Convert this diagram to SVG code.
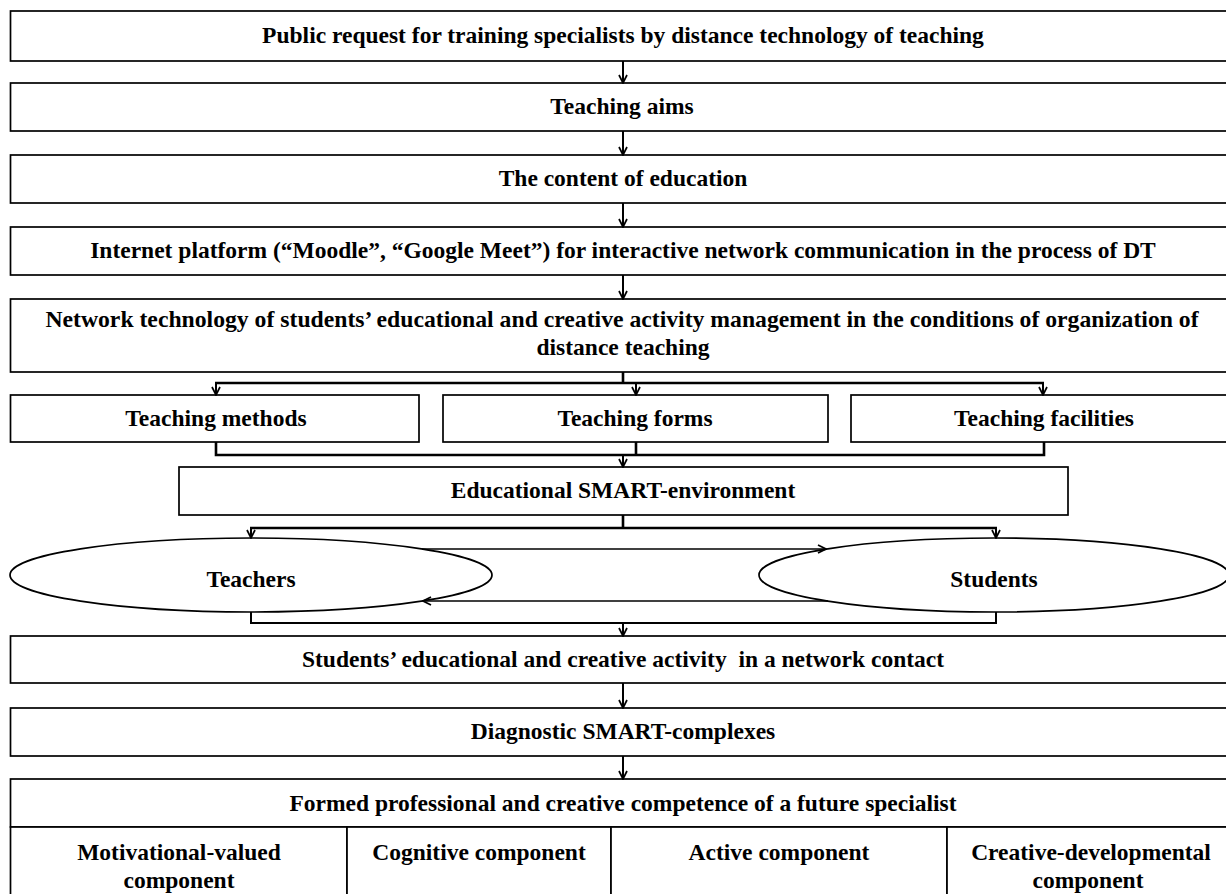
<svg xmlns="http://www.w3.org/2000/svg" width="1226" height="894" viewBox="0 0 1226 894">
<style>
.box{fill:#fff;stroke:#000;stroke-width:1.7}
.t{font-family:"Liberation Serif",serif;font-weight:bold;font-size:23.5px;text-anchor:middle;fill:#000}
.pre{white-space:pre}
.c{fill:none;stroke:#000;stroke-width:2}
.ct{fill:none;stroke:#000;stroke-width:2.6}
.cn{fill:none;stroke:#000;stroke-width:1.5}
</style>
<defs>
<marker id="ah" markerWidth="10" markerHeight="10" refX="9" refY="5" orient="auto" markerUnits="userSpaceOnUse">
<path d="M1,1 L9,5 L1,9" fill="none" stroke="#000" stroke-width="1.7"/>
</marker>
</defs>
<rect width="1226" height="894" fill="#fff"/>
<g id="n1"><rect class="box" x="10.5" y="11" width="1230" height="50"/><text class="t" x="623" y="43">Public request for training specialists by distance technology of teaching</text></g>
<g id="n2"><rect class="box" x="10.5" y="83" width="1230" height="48"/><text class="t" x="622" y="114">Teaching aims</text></g>
<g id="n3"><rect class="box" x="10.5" y="155" width="1230" height="48"/><text class="t" x="623" y="186">The content of education</text></g>
<g id="n4"><rect class="box" x="10.5" y="227" width="1230" height="48"/><text class="t" x="623" y="258">Internet platform (“Moodle”, “Google Meet”) for interactive network communication in the process of DT</text></g>
<g id="n5"><rect class="box" x="10.5" y="299" width="1230" height="73"/><text class="t" x="622" y="327" style="font-size:23.7px">Network technology of students’ educational and creative activity management in the conditions of organization of</text><text class="t" x="623" y="355">distance teaching</text></g>
<g id="n6"><rect class="box" x="10.5" y="395" width="408.5" height="47"/><text class="t" x="216" y="426">Teaching methods</text></g>
<g id="n7"><rect class="box" x="443" y="395" width="385" height="47"/><text class="t" x="635" y="426">Teaching forms</text></g>
<g id="n8"><rect class="box" x="851" y="395" width="390" height="47"/><text class="t" x="1044" y="426">Teaching facilities</text></g>
<g id="n9"><rect class="box" x="179" y="467" width="889" height="48"/><text class="t" x="623" y="498">Educational SMART-environment</text></g>
<g id="n10"><ellipse class="box" cx="251" cy="575" rx="241" ry="37"/><text class="t" x="251" y="587">Teachers</text></g>
<g id="n11"><ellipse class="box" cx="994" cy="575" rx="235" ry="37"/><text class="t" x="994" y="587">Students</text></g>
<g id="n12"><rect class="box" x="10.5" y="636" width="1230" height="47"/><text class="t pre" x="623" y="667">Students’ educational and creative activity  in a network contact</text></g>
<g id="n13"><rect class="box" x="10.5" y="708" width="1230" height="48"/><text class="t" x="623" y="739">Diagnostic SMART-complexes</text></g>
<g id="n14"><rect class="box" x="10.5" y="779" width="1230" height="48"/><text class="t" x="623" y="811">Formed professional and creative competence of a future specialist</text></g>
<g id="n15"><rect class="box" x="10.5" y="827" width="336.5" height="80"/><text class="t" x="179" y="860">Motivational-valued</text><text class="t" x="179" y="888">component</text></g>
<g id="n16"><rect class="box" x="347" y="827" width="264" height="80"/><text class="t" x="479" y="860">Cognitive component</text></g>
<g id="n17"><rect class="box" x="611" y="827" width="336" height="80"/><text class="t" x="779" y="860">Active component</text></g>
<g id="n18"><rect class="box" x="947" y="827" width="294" height="80"/><text class="t" x="1091" y="860">Creative-developmental</text><text class="t" x="1088" y="888">component</text></g>
<g id="connectors">
<path class="c" d="M623,61 V83" marker-end="url(#ah)"/>
<path class="c" d="M623,131 V155" marker-end="url(#ah)"/>
<path class="c" d="M623,203 V227" marker-end="url(#ah)"/>
<path class="c" d="M623,275 V299" marker-end="url(#ah)"/>
<path class="ct" d="M623,372 V383 M215,383 H1044"/>
<path class="c" d="M216,383 V395" marker-end="url(#ah)"/>
<path class="c" d="M636,383 V395" marker-end="url(#ah)"/>
<path class="c" d="M1043,383 V395" marker-end="url(#ah)"/>
<path class="ct" d="M216,442 V455 H1044 V442 M636,442 V455"/>
<path class="c" d="M623,455 V467" marker-end="url(#ah)"/>
<path class="ct" d="M623,515 V528 M250,528 H997"/>
<path class="c" d="M251,528 V538" marker-end="url(#ah)"/>
<path class="c" d="M996,528 V538" marker-end="url(#ah)"/>
<path class="cn" d="M422,549 H826" marker-end="url(#ah)"/>
<path class="cn" d="M828,601 H423" marker-end="url(#ah)"/>
<path class="c" d="M251,612 V623 H996 V612"/>
<path class="c" d="M623,623 V636" marker-end="url(#ah)"/>
<path class="c" d="M623,683 V708" marker-end="url(#ah)"/>
<path class="c" d="M623,756 V779" marker-end="url(#ah)"/>
</g>
</svg>
